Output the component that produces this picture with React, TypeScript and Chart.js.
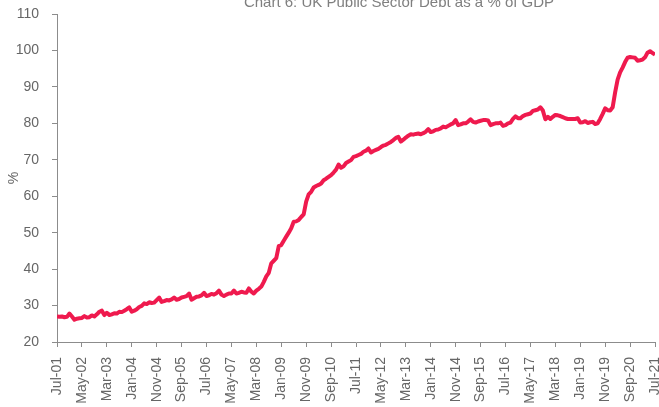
import React, { useEffect, useRef } from "react";
import { Chart, registerables } from "chart.js";

Chart.register(...registerables);

const chartTitle = "Chart 6: UK Public Sector Debt as a % of GDP";
const yAxisTitle = "%";

const tickLabels = [
  "Jul-01", "May-02", "Mar-03", "Jan-04", "Nov-04", "Sep-05", "Jul-06", "May-07", "Mar-08",
  "Jan-09", "Nov-09", "Sep-10", "Jul-11", "May-12", "Mar-13", "Jan-14", "Nov-14", "Sep-15",
  "Jul-16", "May-17", "Mar-18", "Jan-19", "Nov-19", "Sep-20", "Jul-21",
];

// Monthly public sector net debt, % of GDP, Jul-01 .. Jul-21 (241 months)
const debtPct = [
  27.0, 26.9, 27.0, 26.8, 26.9, 27.8, 27.0, 26.1, 26.4, 26.5,
  26.6, 27.1, 26.7, 26.8, 27.3, 27.0, 27.6, 28.3, 28.6, 27.4,
  28.0, 27.4, 27.6, 27.9, 27.8, 28.3, 28.2, 28.6, 29.0, 29.5,
  28.3, 28.6, 29.0, 29.6, 29.9, 30.6, 30.4, 30.9, 30.7, 30.8,
  31.5, 32.2, 31.0, 31.2, 31.5, 31.4, 31.7, 32.2, 31.6, 31.8,
  32.2, 32.4, 32.6, 33.3, 31.6, 32.0, 32.4, 32.5, 32.8, 33.5,
  32.6, 32.8, 33.2, 33.0, 33.4, 34.1, 33.0, 32.6, 33.0, 33.3,
  33.3, 34.1, 33.3, 33.5, 33.8, 33.6, 33.5, 34.7, 33.8, 33.3,
  34.1, 34.6, 35.2, 36.5, 38.0, 39.0, 41.6, 42.3, 43.0, 46.3,
  46.6, 47.8, 48.9, 50.0, 51.2, 53.0, 53.1, 53.5, 54.3, 55.0,
  58.5, 60.5, 61.2, 62.4, 62.8, 63.1, 63.5, 64.4, 64.8, 65.3,
  65.8, 66.5, 67.3, 68.7, 67.8, 68.2, 69.1, 69.5, 69.9, 70.8,
  71.0, 71.3, 71.6, 72.2, 72.5, 73.1, 72.0, 72.4, 72.7, 73.0,
  73.5, 73.9, 74.1, 74.5, 74.9, 75.4, 76.0, 76.3, 75.0, 75.5,
  76.1, 76.6, 77.0, 76.9, 77.1, 77.2, 77.0, 77.3, 77.7, 78.4,
  77.6, 77.8, 78.2, 78.3, 78.6, 79.1, 78.9, 79.3, 79.7, 80.0,
  80.9, 79.5, 79.7, 80.0, 80.0, 80.5, 81.1, 80.4, 80.2, 80.5,
  80.7, 80.9, 80.9, 80.8, 79.5, 79.8, 80.0, 80.0, 80.2, 79.3,
  79.5, 80.0, 80.2, 81.2, 81.9, 81.4, 81.4, 82.0, 82.3, 82.5,
  82.7, 83.4, 83.6, 83.8, 84.4, 83.5, 81.1, 81.8, 81.2, 81.8,
  82.3, 82.2, 82.0, 81.7, 81.4, 81.2, 81.2, 81.2, 81.2, 81.4,
  80.2, 80.3, 80.6, 80.1, 80.3, 80.4, 79.8, 80.0, 81.2, 82.6,
  84.1, 83.6, 83.5, 84.4, 88.5, 92.0, 94.0, 95.3, 96.8, 98.0,
  98.2, 98.1, 98.0, 97.2, 97.3, 97.5, 98.1, 99.4, 99.8, 99.3,
  98.9,
];

const FONT = "'Liberation Sans', Arial, sans-serif";
const AXIS_GREY = "#8c8c8c";
const TEXT_GREY = "#666666";

export default function App() {
  const ref = useRef<HTMLCanvasElement>(null);

  useEffect(() => {
    if (!ref.current) return;
    const titlePlugin = {
      id: "cutTitle",
      afterDraw(chart: any) {
        const ctx = chart.ctx;
        ctx.save();
        ctx.font = `15px ${FONT}`;
        ctx.fillStyle = "#7f7f7f";
        ctx.textAlign = "center";
        ctx.textBaseline = "alphabetic";
        ctx.fillText(chartTitle, 399, 7);
        ctx.restore();
      },
    };
    const chart = new Chart(ref.current, {
      type: "line",
      data: {
        datasets: [
          {
            data: debtPct.map((v, i) => ({ x: i, y: v })),
            borderColor: "#EF1A4E",
            borderWidth: 4,
            pointRadius: 0,
            tension: 0,
            fill: false,
            borderJoinStyle: "round",
          },
        ],
      },
      options: {
        animation: false,
        responsive: false,
        layout: { padding: { top: 14, right: 4, left: 0, bottom: 0 } },
        plugins: {
          legend: { display: false },
          tooltip: { enabled: false },
          title: { display: false },
        },
        scales: {
          x: {
            type: "linear",
            min: 0,
            max: 240,
            afterFit(s: any) {
              s.height = 65;
              s.paddingLeft = 0;
              s.paddingRight = 0;
            },
            ticks: {
              stepSize: 10,
              autoSkip: false,
              maxRotation: 90,
              minRotation: 90,
              padding: 10,
              color: TEXT_GREY,
              font: { family: FONT, size: 14 },
              callback: (v: any) => tickLabels[Math.round(Number(v) / 10)] ?? "",
            },
            grid: { drawOnChartArea: false, drawTicks: true, tickLength: 5, color: AXIS_GREY },
            border: { display: true, color: AXIS_GREY, width: 1 },
          },
          y: {
            min: 20,
            max: 110,
            afterFit(s: any) {
              s.width = 57;
              s.paddingTop = 0;
              s.paddingBottom = 0;
            },
            ticks: {
              stepSize: 10,
              padding: 13,
              color: TEXT_GREY,
              font: { family: FONT, size: 14 },
            },
            grid: { drawOnChartArea: false, drawTicks: true, tickLength: 5, color: AXIS_GREY },
            border: { display: true, color: AXIS_GREY, width: 1 },
            title: {
              display: true,
              text: yAxisTitle,
              color: TEXT_GREY,
              font: { family: FONT, size: 14 },
              padding: { top: 6, bottom: 0 },
            },
          },
        },
      },
      plugins: [titlePlugin],
    } as any);
    return () => chart.destroy();
  }, []);

  return (
    <canvas
      ref={ref}
      width={659}
      height={407}
      style={{ position: "absolute", left: 0, top: 0, display: "block" }}
    />
  );
}
